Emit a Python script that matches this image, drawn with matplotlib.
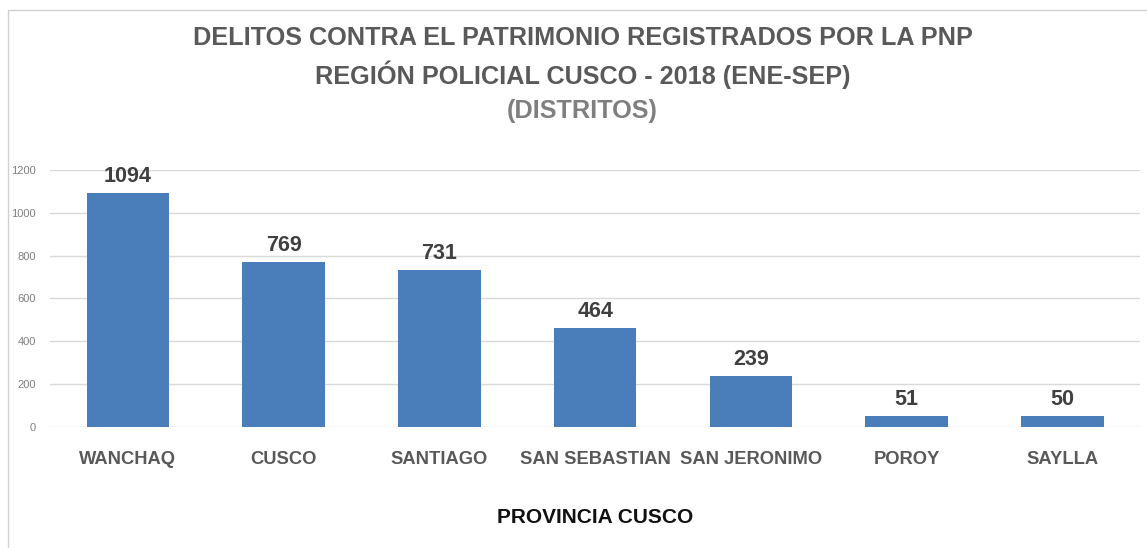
import matplotlib.pyplot as plt
from matplotlib.patches import Rectangle

distritos = ['WANCHAQ', 'CUSCO', 'SANTIAGO', 'SAN SEBASTIAN', 'SAN JERONIMO', 'POROY', 'SAYLLA']
delitos = [1094, 769, 731, 464, 239, 51, 50]
yticks = [0, 200, 400, 600, 800, 1000, 1200]

plt.rcParams['font.family'] = ['Liberation Sans', 'DejaVu Sans']

fig = plt.figure(figsize=(11.47, 5.48), dpi=100)
ax = fig.add_axes([0.0436, 0.2208, 0.9504, 0.469])

x = range(len(distritos))
bars = ax.bar(x, delitos, width=0.53, color='#4a7ebb', zorder=2)
for b, v in zip(bars, delitos):
    ax.text(b.get_x() + b.get_width() / 2, v + 28, str(v), ha='center', va='bottom',
            fontsize=15.5, fontweight='bold', color='#404040')

ax.set_xlim(-0.5, len(distritos) - 0.5)
ax.set_ylim(0, 1200)
ax.set_yticks(yticks)
ax.set_xticks(list(x))
ax.set_xticklabels(distritos, fontsize=13.2, fontweight='bold', color='#595959')
ax.tick_params(axis='y', labelsize=8, colors='#7f7f7f', length=0, pad=10)
ax.tick_params(axis='x', length=0, pad=17)
ax.grid(axis='y', color='#d9d9d9', linewidth=1, zorder=0)
for s in ax.spines.values():
    s.set_visible(False)

ax.set_xlabel('PROVINCIA CUSCO', fontsize=15, fontweight='bold', color='#111111', labelpad=29)

fig.text(0.508, 0.931, 'DELITOS CONTRA EL PATRIMONIO REGISTRADOS POR LA PNP', ha='center', va='center',
         fontsize=18.2, fontweight='bold', color='#595959')
fig.text(0.508, 0.863, 'REGIÓN POLICIAL CUSCO - 2018 (ENE-SEP)', ha='center', va='center',
         fontsize=18.2, fontweight='bold', color='#595959')
fig.text(0.508, 0.797, '(DISTRITOS)', ha='center', va='center',
         fontsize=18.2, fontweight='bold', color='#7f7f7f')

fig.patches.append(Rectangle((0.007, -0.01), 1.0, 1.0 - 0.009, transform=fig.transFigure,
                             fill=False, edgecolor='#d0d0d0', linewidth=1))

fig.savefig('out.png', dpi=100)
